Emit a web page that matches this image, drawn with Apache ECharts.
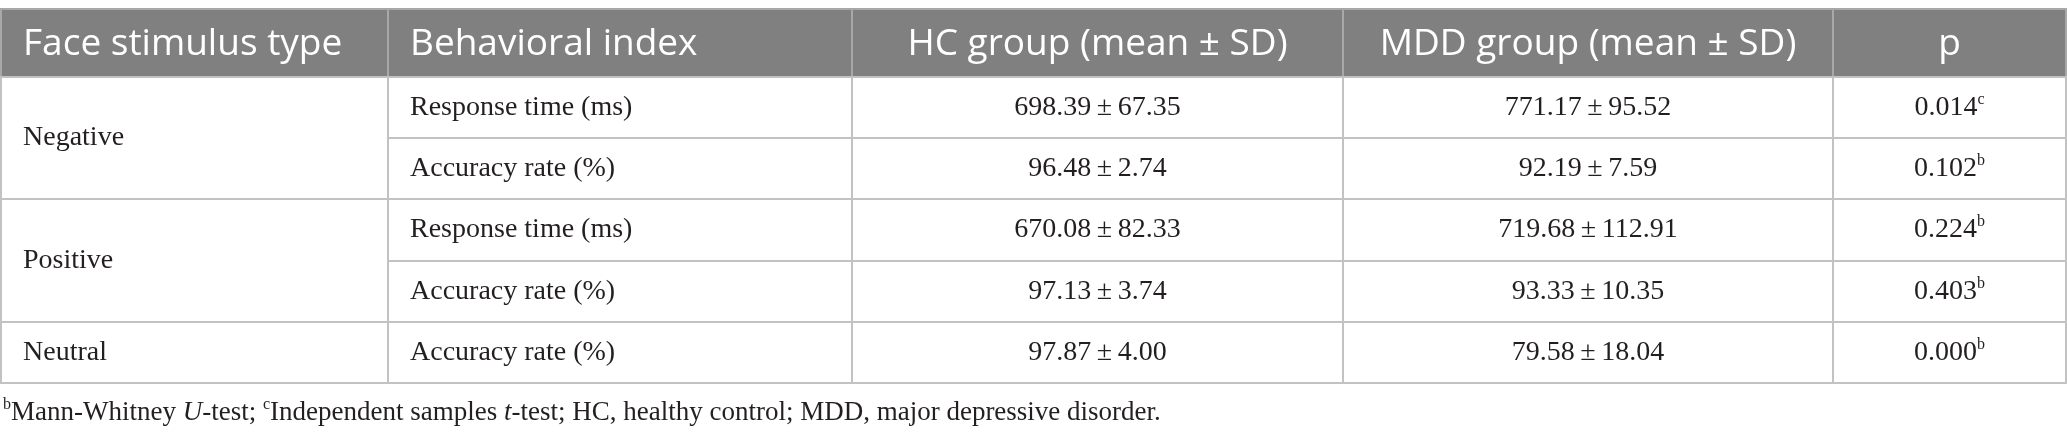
<!DOCTYPE html>
<html>
<head>
    <meta charset="utf-8">
    <title>Behavioral results table</title>
    <script src="https://cdn.jsdelivr.net/npm/echarts@6/dist/echarts.min.js"></script>
    <style>
        html, body { margin: 0; padding: 0; background: #fff; }
    </style>
</head>
<body>
    <div id="main" style="width: 2067px;height:440px;"></div>

    <script type="text/javascript">

        // table content
        var headers = ['Face stimulus type', 'Behavioral index', 'HC group (mean \u00b1 SD)', 'MDD group (mean \u00b1 SD)', 'p'];
        var stimulusTypes = ['Negative', 'Positive', 'Neutral'];
        var stimulusSpans = [2, 2, 1];
        var behavioralIndex = ['Response time (ms)', 'Accuracy rate (%)', 'Response time (ms)', 'Accuracy rate (%)', 'Accuracy rate (%)'];
        var hcMean = [698.39, 96.48, 670.08, 97.13, 97.87];
        var hcSD = [67.35, 2.74, 82.33, 3.74, 4.00];
        var mddMean = [771.17, 92.19, 719.68, 93.33, 79.58];
        var mddSD = [95.52, 7.59, 112.91, 10.35, 18.04];
        var pValues = [0.014, 0.102, 0.224, 0.403, 0.000];
        var pTest = ['c', 'b', 'b', 'b', 'b'];

        // layout (grid units = px)
        var colEdges = [0, 387, 851, 1342, 1832, 2065];
        var rowHeights = [68, 61, 61, 62, 61, 61];
        var rowEdges = [0];
        for (var i = 0; i < rowHeights.length; i++) {
            rowEdges.push(rowEdges[i] + rowHeights[i]);
        }

        var serif = '"Liberation Serif", "DejaVu Serif", serif';
        var sans = '"Open Sans", "Noto Sans", sans-serif';
        var ink = '#231f20';
        var pm = '\u2009\u00b1\u2009';

        // build the cells: [col, rowStart, rowSpan]
        var cells = [];
        headers.forEach(function (h, c) {
            cells.push({ value: [c, 0, 1], kind: 'head', text: h });
        });
        var r = 1;
        stimulusTypes.forEach(function (s, k) {
            cells.push({ value: [0, r, stimulusSpans[k]], kind: 'body', text: s });
            r += stimulusSpans[k];
        });
        behavioralIndex.forEach(function (b, k) {
            var row = k + 1;
            cells.push({ value: [1, row, 1], kind: 'body', text: b });
            cells.push({ value: [2, row, 1], kind: 'body', text: hcMean[k].toFixed(2) + pm + hcSD[k].toFixed(2) });
            cells.push({ value: [3, row, 1], kind: 'body', text: mddMean[k].toFixed(2) + pm + mddSD[k].toFixed(2) });
            cells.push({ value: [4, row, 1], kind: 'body', text: '{n|' + pValues[k].toFixed(3) + '}{s|' + pTest[k] + '}' });
        });

        function renderCell(params, api) {
            var cell = cells[params.dataIndex];
            var c = api.value(0), r0 = api.value(1), span = api.value(2);
            var p0 = api.coord([colEdges[c], rowEdges[r0]]);
            var p1 = api.coord([colEdges[c + 1], rowEdges[r0 + span]]);
            var w = p1[0] - p0[0], h = p1[1] - p0[1];
            var head = cell.kind === 'head';
            var left = c < 2;
            return {
                type: 'group',
                children: [{
                    type: 'rect',
                    shape: { x: p0[0], y: p0[1], width: w, height: h },
                    style: {
                        fill: head ? '#808080' : '#fff',
                        stroke: head ? '#a8a8a8' : '#c2c2c2',
                        lineWidth: 2
                    }
                }, {
                    type: 'text',
                    style: {
                        text: cell.text,
                        x: left ? p0[0] + 22 : p0[0] + w / 2,
                        y: p0[1] + h / 2 + (head ? 1 : 0),
                        align: left ? 'left' : 'center',
                        verticalAlign: 'middle',
                        fontFamily: head ? sans : serif,
                        fontSize: head ? 37 : 28,
                        fill: head ? '#fff' : ink,
                        rich: {
                            n: { fontFamily: serif, fontSize: 28, fill: ink, lineHeight: 32 },
                            s: { fontFamily: serif, fontSize: 16, fill: ink, lineHeight: 22, verticalAlign: 'top' }
                        }
                    }
                }]
            };
        }

        var myChart = echarts.init(document.getElementById('main'));

        var option = {
            animation: false,
            title: {
                text: '{sup|b}{t|Mann-Whitney }{i|U}{t|-test; }{sup|c}{t|Independent samples }{i|t}{t|-test; HC, healthy control; MDD, major depressive disorder.}',
                left: 3,
                top: 397,
                padding: 0,
                textStyle: {
                    fontWeight: 'normal',
                    rich: {
                        t: { fontFamily: serif, fontSize: 27, fontWeight: 'normal', color: ink, lineHeight: 32 },
                        i: { fontFamily: serif, fontSize: 27, fontWeight: 'normal', color: ink, fontStyle: 'italic', lineHeight: 32 },
                        sup: { fontFamily: serif, fontSize: 16, fontWeight: 'normal', color: ink, lineHeight: 20, verticalAlign: 'top' }
                    }
                }
            },
            grid: { left: 1, right: 1, top: 9, height: rowEdges[rowEdges.length - 1] },
            xAxis: { type: 'value', min: 0, max: colEdges[colEdges.length - 1], show: false },
            yAxis: { type: 'value', min: 0, max: rowEdges[rowEdges.length - 1], inverse: true, show: false },
            series: [{
                type: 'custom',
                coordinateSystem: 'cartesian2d',
                clip: false,
                silent: true,
                renderItem: renderCell,
                data: cells
            }]
        };

        myChart.setOption(option);
    </script>
</body>
</html>
